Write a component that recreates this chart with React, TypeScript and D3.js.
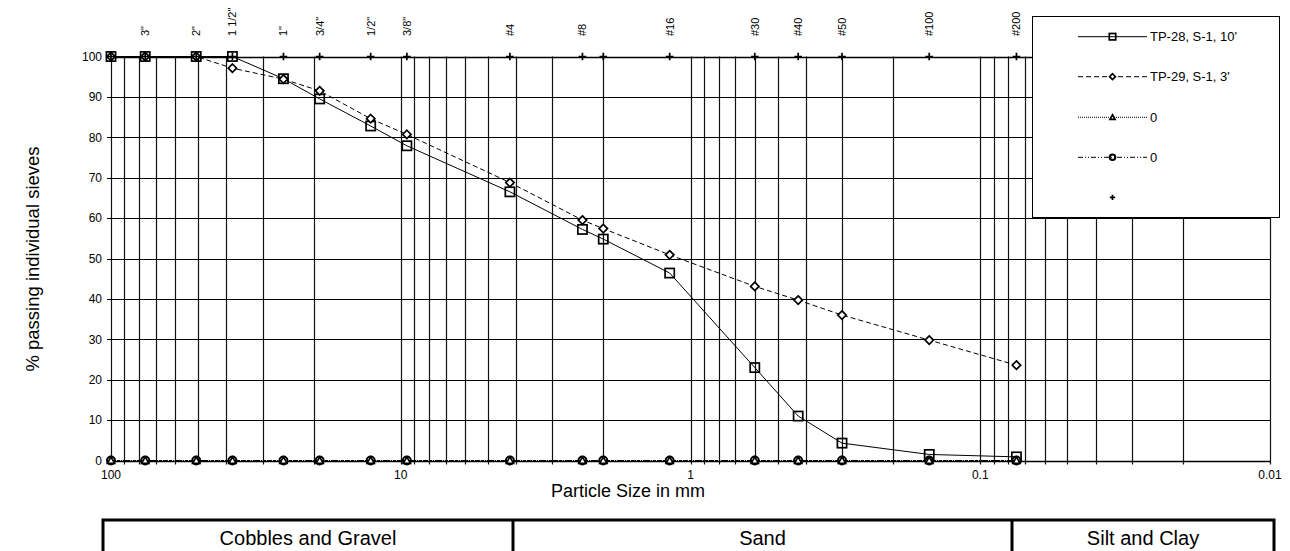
import React from "react";
import * as d3 from "d3";

// Sieve sizes (mm) and their labels along the top
const sieveSizes = [100, 76.2, 50.8, 38.1, 25.4, 19.05, 12.7, 9.525, 4.2, 2.36, 2.0, 1.18, 0.6, 0.425, 0.3, 0.15, 0.075];
const sieveLabels = ["", '3"', '2"', '1 1/2"', '1"', '3/4"', '1/2"', '3/8"', "#4", "#8", "", "#16", "#30", "#40", "#50", "#100", "#200"];

// Percent passing
const tp28 = [100, 100, 100, 100, 94.5, 89.5, 82.8, 77.9, 66.5, 57.2, 54.8, 46.4, 23.0, 11.0, 4.3, 1.5, 0.9];
const tp29 = [100, 100, 100, 97.1, 94.4, 91.5, 84.6, 80.7, 68.8, 59.5, 57.4, 50.9, 43.1, 39.7, 36.0, 29.8, 23.6];
const series3 = [0, 0, 0, 0, 0, 0, 0, 0, 0, 0, 0, 0, 0, 0, 0, 0, 0];
const series4 = [0, 0, 0, 0, 0, 0, 0, 0, 0, 0, 0, 0, 0, 0, 0, 0, 0];
const sieveMarks = [100, 100, 100, 100, 100, 100, 100, 100, 100, 100, 100, 100, 100, 100, 100, 100, 100];

const xTickValues = [100, 10, 1, 0.1, 0.01];
const xTickLabels = ["100", "10", "1", "0.1", "0.01"];
const yTickValues = [0, 10, 20, 30, 40, 50, 60, 70, 80, 90, 100];

const legendLabels = ["TP-28, S-1, 10'", "TP-29, S-1, 3'", "0", "0", ""];

const bandLabels = ["Cobbles and Gravel", "Sand", "Silt and Clay"];
const bandEdges = [103, 513, 1012, 1274];

const FONT = "Arial, 'Liberation Sans', Helvetica, sans-serif";

type MarkerKind = "square" | "diamond" | "triangle" | "circle" | "plus";

function Marker({ kind, x, y, s = 1 }: { kind: MarkerKind; x: number; y: number; s?: number }) {
  const sw = 1.7;
  if (kind === "square") {
    const h = 4.6 * s;
    return <rect x={x - h} y={y - h} width={2 * h} height={2 * h} fill="none" stroke="#000" strokeWidth={sw} />;
  }
  if (kind === "diamond") {
    const h = 4.2 * s;
    return (
      <path d={`M${x},${y - h}L${x + h},${y}L${x},${y + h}L${x - h},${y}Z`} fill="#fff" stroke="#000" strokeWidth={sw} />
    );
  }
  if (kind === "triangle") {
    const h = 3.6 * s;
    return (
      <path d={`M${x},${y - h}L${x + h},${y + h * 0.8}L${x - h},${y + h * 0.8}Z`} fill="#fff" stroke="#000" strokeWidth={sw} />
    );
  }
  if (kind === "circle") {
    return <circle cx={x} cy={y} r={4 * s} fill="none" stroke="#000" strokeWidth={2} />;
  }
  const h = 3.8 * s;
  return (
    <path d={`M${x - h},${y}H${x + h}M${x},${y - h}V${y + h}`} stroke="#000" strokeWidth={1.7} fill="none" />
  );
}

export default function App() {
  const W = 1290;
  const H = 551;
  const left = 111;
  const right = 1270;
  const top = 56.5;
  const bottom = 460.5;

  const x = d3.scaleLog().domain([100, 0.01]).range([left, right]);
  const y = d3.scaleLinear().domain([0, 100]).range([bottom, top]);

  const gridValues = x.ticks();
  const px = (v: number) => Math.round(x(v)) + 0.5;
  const py = (v: number) => Math.round(y(v)) + 0.5;

  const line = d3
    .line<number>()
    .x((_, i) => x(sieveSizes[i]))
    .y((d) => y(d));

  const series: { data: number[]; kind: MarkerKind; dash: string | null; width: number }[] = [
    { data: tp28, kind: "square", dash: "none", width: 1 },
    { data: tp29, kind: "diamond", dash: "5,3", width: 1 },
    { data: series3, kind: "triangle", dash: "1,1", width: 1 },
    { data: series4, kind: "circle", dash: "5,2,1,2,1,2", width: 1 },
    { data: sieveMarks, kind: "plus", dash: null, width: 1 },
  ];

  const legendX0 = 1032.5;
  const legendY0 = 16.5;
  const legendW = 247;
  const legendH = 201;
  const legendRows = [36.7, 76.7, 117.3, 157.3, 197.3];

  return (
    <svg
      width={W}
      height={H}
      style={{ position: "absolute", left: 0, top: 0, background: "#fff" }}
      fontFamily={FONT}
    >
      <rect x={0} y={0} width={W} height={H} fill="#fff" />

      {/* vertical grid lines */}
      {gridValues.map((v, i) => (
        <line key={"vg" + i} x1={px(v)} x2={px(v)} y1={top} y2={bottom + 4} stroke="#111" strokeWidth={1.2} />
      ))}
      {/* horizontal grid lines */}
      {yTickValues.map((v) => (
        <line key={"hg" + v} x1={left - 4} x2={right} y1={py(v)} y2={py(v)} stroke="#000" strokeWidth={v === 100 ? 1.6 : 1.1} />
      ))}
      {/* axis line */}
      <line x1={left} x2={right} y1={py(0)} y2={py(0)} stroke="#000" strokeWidth={1.5} />

      {/* y tick labels */}
      {yTickValues.map((v) => (
        <text key={"yt" + v} x={102} y={y(v)} dy="0.35em" textAnchor="end" fontSize={12} fill="#000">
          {v}
        </text>
      ))}
      {/* x tick labels */}
      {xTickValues.map((v, i) => (
        <text key={"xt" + i} x={x(v)} y={479} textAnchor="middle" fontSize={12} fill="#000">
          {xTickLabels[i]}
        </text>
      ))}

      {/* sieve labels along the top */}
      {sieveSizes.map((s, i) =>
        sieveLabels[i] ? (
          <text
            key={"sl" + i}
            transform={`translate(${x(s) + 4},36) rotate(-90)`}
            textAnchor="start"
            fontSize={11}
            fill="#000"
          >
            {sieveLabels[i]}
          </text>
        ) : null
      )}

      {/* series lines */}
      {series.map((s, i) =>
        s.dash !== null ? (
          <path
            key={"ln" + i}
            d={line(s.data) || ""}
            fill="none"
            stroke="#000"
            strokeWidth={s.width}
            strokeDasharray={s.dash === "none" ? undefined : s.dash}
          />
        ) : null
      )}
      {/* series markers */}
      {series.map((s, i) => (
        <g key={"mk" + i}>
          {s.data.map((d, j) => (
            <Marker key={j} kind={s.kind} x={x(sieveSizes[j])} y={y(d)} />
          ))}
        </g>
      ))}

      {/* legend */}
      <rect x={legendX0} y={legendY0} width={legendW} height={legendH} fill="#fff" stroke="#000" strokeWidth={1} />
      {series.map((s, i) => (
        <g key={"lg" + i}>
          {s.dash !== null ? (
            <line
              x1={1078}
              x2={1147}
              y1={legendRows[i]}
              y2={legendRows[i]}
              stroke="#000"
              strokeWidth={1}
              strokeDasharray={s.dash === "none" ? undefined : s.dash}
            />
          ) : null}
          <Marker kind={s.kind} x={1112.5} y={legendRows[i]} s={0.7} />
          <text x={1150} y={legendRows[i]} dy="0.35em" fontSize={13} fill="#000">
            {legendLabels[i]}
          </text>
        </g>
      ))}

      {/* axis titles */}
      <text x={628} y={497} textAnchor="middle" fontSize={18} fill="#000">
        Particle Size in mm
      </text>
      <text
        transform={`translate(33,259) rotate(-90)`}
        textAnchor="middle"
        dy="0.35em"
        fontSize={18.5}
        fill="#000"
      >
        % passing individual sieves
      </text>

      {/* soil classification band */}
      <rect
        x={bandEdges[0]}
        y={520}
        width={bandEdges[3] - bandEdges[0]}
        height={50}
        fill="none"
        stroke="#000"
        strokeWidth={3}
      />
      {bandEdges.slice(1, 3).map((e, i) => (
        <line key={"bd" + i} x1={e} x2={e} y1={520} y2={H} stroke="#000" strokeWidth={3} />
      ))}
      {bandLabels.map((t, i) => (
        <text
          key={"bt" + i}
          x={(bandEdges[i] + bandEdges[i + 1]) / 2}
          y={545}
          textAnchor="middle"
          fontSize={20}
          fill="#000"
        >
          {t}
        </text>
      ))}
    </svg>
  );
}
